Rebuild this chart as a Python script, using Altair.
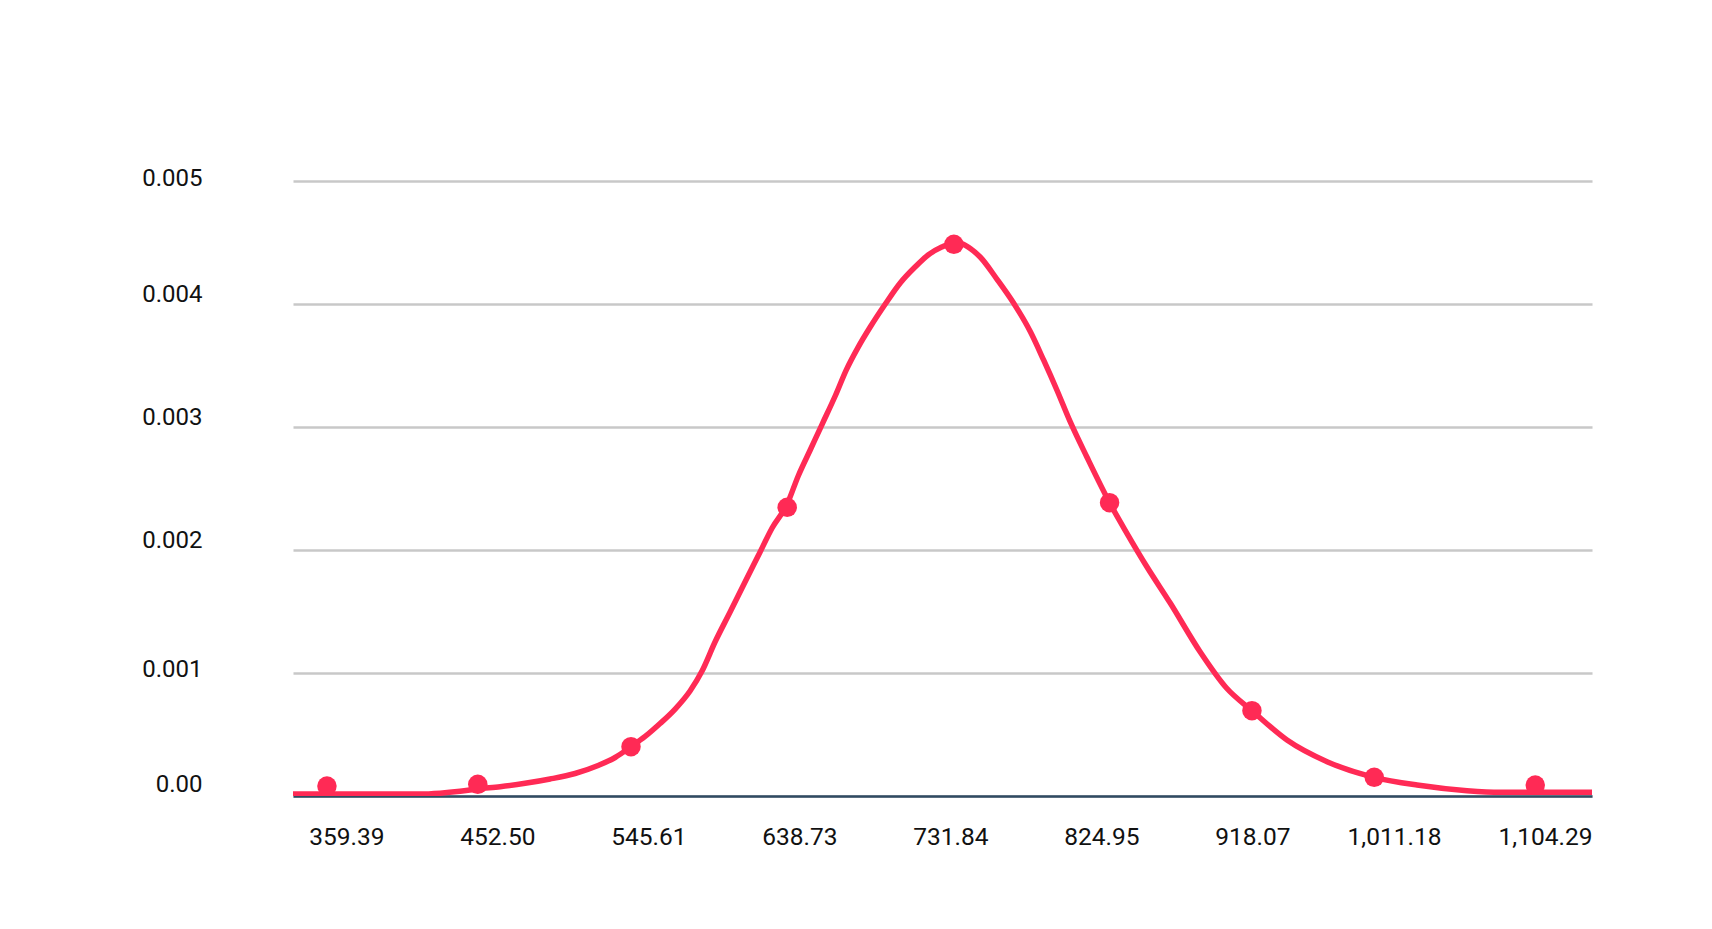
import altair as alt
import pandas as pd

# Axis ticks
x_ticks = [359.39, 452.50, 545.61, 638.73, 731.84, 824.95, 918.07, 1011.18, 1104.29]
y_ticks = [0, 0.001, 0.002, 0.003, 0.004, 0.005]

# Marker points
dot_x = [324.2, 417.2, 511.7, 608.0, 710.8, 806.8, 894.6, 970.0, 1069.3]
dot_y = [0.000081, 0.000095, 0.000401, 0.002347, 0.004485, 0.002385, 0.000694, 0.000152, 0.000089]

# Smooth curve
line_x = [303.3, 381.6, 394.0, 406.3, 417.4, 431.0, 446.4, 461.8, 477.2, 491.4,
          501.9, 511.7, 520.4, 529.6, 538.9, 548.1, 555.5, 563.5, 572.8, 582.0,
          591.3, 598.7, 608.0, 614.8, 622.2, 629.6, 637.6, 644.4, 651.8, 659.2,
          668.5, 677.7, 686.9, 694.9, 703.3, 710.8, 716.0, 720.9, 727.0, 737.3,
          747.6, 757.9, 766.1, 774.3, 782.5, 792.8, 806.8, 817.5, 829.8, 844.2,
          862.7, 878.9, 894.6, 916.2, 940.9, 970.0, 996.4, 1027.2, 1047.8, 1104.29]
line_y = [0.000016, 0.000016, 0.000023, 0.000038, 0.000057, 0.000076, 0.000103, 0.000138, 0.000183, 0.000248,
          0.000313, 0.000401, 0.000484, 0.000589, 0.000707, 0.000854, 0.001016, 0.001252, 0.001496, 0.001740,
          0.001984, 0.002179, 0.002374, 0.002602, 0.002813, 0.003024, 0.003252, 0.003463, 0.003650, 0.003813,
          0.004000, 0.004171, 0.004301, 0.004398, 0.004463, 0.004496, 0.004488, 0.004451, 0.004382, 0.004203,
          0.004008, 0.003776, 0.003545, 0.003301, 0.003043, 0.002756, 0.002385, 0.002136, 0.001864, 0.001569,
          0.001171, 0.000878, 0.000694, 0.000455, 0.000279, 0.000152, 0.000089, 0.000043, 0.000030, 0.000030]

line_df = pd.DataFrame({"x": line_x, "y": line_y})
dot_df = pd.DataFrame({"x": dot_x, "y": dot_y})

RED = "#FF2A55"

x_scale = alt.Scale(domain=[303.26, 1104.29], nice=False, zero=False)
y_scale = alt.Scale(domain=[0, 0.005], nice=False)

y_label_offset = (
    "datum.value < 0.0005 ? -11.5 : datum.value < 0.0015 ? -4 : "
    "datum.value < 0.0025 ? -10 : datum.value < 0.0035 ? -10 : "
    "datum.value < 0.0045 ? -9.5 : -3"
)


def x_axis():
    return alt.Axis(
        values=x_ticks, format=",.2f", labelAlign="right", labelBaseline="top",
        labelPadding=29, ticks=False, tickSize=0, grid=False,
        domainColor="#2F4A62", domainWidth=2.5,
        labelFontSize=24.5, labelFont="Roboto", labelColor="#111111",
        title=None, labelOverlap=False, labelFlush=False,
    )


def y_axis():
    return alt.Axis(
        values=y_ticks,
        labelExpr="datum.value == 0 ? '0.00' : format(datum.value, '.3f')",
        grid=True, gridColor="#C8C8C8", gridWidth=2.5,
        domain=False, ticks=False, tickSize=0, labelPadding=91,
        labelFontSize=24, labelFont="Roboto", labelColor="#111111",
        labelOffset={"expr": y_label_offset}, labelBaseline="middle", title=None,
    )


line = alt.Chart(line_df).mark_line(
    color=RED, strokeWidth=5.5, interpolate="monotone", clip=True,
    strokeCap="round", strokeJoin="round",
).encode(
    x=alt.X("x:Q", scale=x_scale, axis=x_axis()),
    y=alt.Y("y:Q", scale=y_scale, axis=y_axis()),
)

dots = alt.Chart(dot_df).mark_circle(color=RED, size=380, opacity=1).encode(
    x=alt.X("x:Q", scale=x_scale, axis=x_axis()),
    y=alt.Y("y:Q", scale=y_scale, axis=y_axis()),
)

chart = alt.layer(line, dots).properties(
    width=1299, height=615,
    padding={"left": 285, "top": 173, "right": 112, "bottom": 125},
    autosize=alt.AutoSizeParams(type="none"),
    background="white",
).configure_view(stroke=None)

chart.save("out.html", embed_options={"renderer": "svg", "actions": False})
